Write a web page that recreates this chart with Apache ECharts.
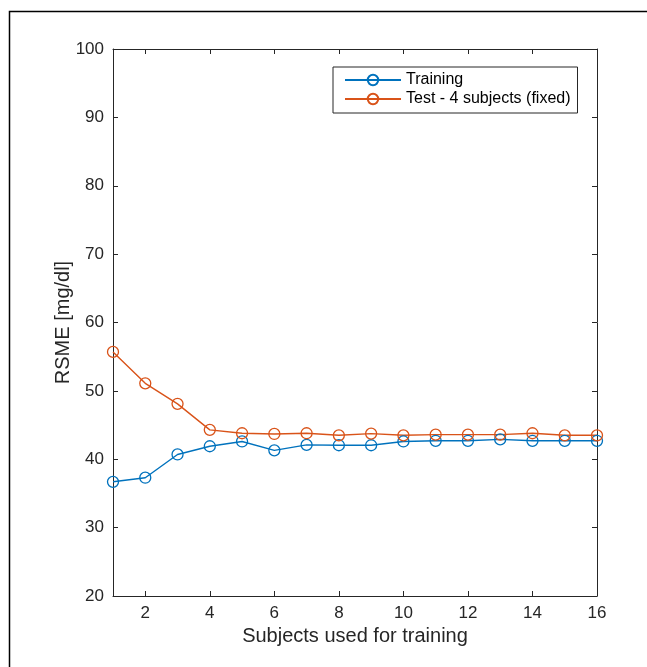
<!DOCTYPE html>
<html>
<head>
<meta charset="utf-8">
<script src="https://cdn.jsdelivr.net/npm/echarts@6/dist/echarts.min.js"></script>
<style>
  html, body { margin: 0; padding: 0; background: #fff; }
  #chart { width: 647px; height: 667px; }
</style>
</head>
<body>
<div id="chart"></div>
<script>
// subjects used for training (x axis)
const subjects = ['1', '2', '3', '4', '5', '6', '7', '8', '9', '10', '11', '12', '13', '14', '15', '16'];
// RSME [mg/dl] values
const training = [36.7, 37.3, 40.7, 41.9, 42.6, 41.3, 42.1, 42.05, 42.05, 42.6, 42.7, 42.7, 42.9, 42.7, 42.7, 42.7];
const testFixed = [55.7, 51.1, 48.1, 44.3, 43.8, 43.7, 43.8, 43.5, 43.75, 43.5, 43.6, 43.6, 43.6, 43.8, 43.5, 43.5];
const yTicks = { min: 20, max: 100, step: 10 };

const axisColor = '#262626';
const font = 'Liberation Sans, Arial, sans-serif';

const myChart = echarts.init(document.getElementById('chart'));

// only every second category gets a tick/label (2, 4, ... 16)
const everyOther = (i) => i % 2 === 1;

const baseX = {
    type: 'category',
    data: subjects,
    boundaryGap: false,
    axisLine: { show: true, lineStyle: { color: axisColor, width: 1 } },
    axisTick: { show: true, inside: true, length: 5, interval: everyOther, lineStyle: { color: axisColor } },
    splitLine: { show: false }
};
const baseY = {
    type: 'value',
    min: yTicks.min,
    max: yTicks.max,
    interval: yTicks.step,
    axisLine: { show: true, lineStyle: { color: axisColor, width: 1 } },
    axisTick: { show: true, inside: true, length: 5, lineStyle: { color: axisColor } },
    splitLine: { show: false }
};

const makeSeries = (name, color, data) => ({
    name: name,
    type: 'line',
    data: data,
    symbol: 'circle',
    symbolSize: 11,
    showAllSymbol: true,
    itemStyle: { color: 'rgba(255,255,255,0)', borderColor: color, borderWidth: 1.3 },
    lineStyle: { color: color, width: 1.4 },
    emphasis: { disabled: true },
    z: 3
});

myChart.setOption({
    animation: false,
    backgroundColor: '#fff',
    textStyle: { fontFamily: font },
    grid: { left: 113, right: 50, top: 49, bottom: 71 },
    graphic: [
        {
            type: 'rect',
            left: 7,
            top: 9,
            shape: { width: 700, height: 700 },
            style: { fill: 'none', stroke: '#000', lineWidth: 1.5 },
            z: -1
        }
    ],
    legend: {
        orient: 'vertical',
        left: 333,
        top: 67,
        backgroundColor: '#fff',
        borderColor: axisColor,
        borderWidth: 1,
        padding: [5, 7, 6, 11],
        itemWidth: 56,
        itemHeight: 13,
        itemGap: 3,
        textStyle: { fontFamily: font, fontSize: 16, color: '#000' },
        data: ['Training', 'Test - 4 subjects (fixed)']
    },
    xAxis: [
        Object.assign({}, baseX, {
            position: 'bottom',
            name: 'Subjects used for training',
            nameLocation: 'middle',
            nameGap: 30,
            nameMoveOverlap: false,
            nameTextStyle: { fontFamily: font, fontSize: 20, color: axisColor },
            axisLabel: { interval: everyOther, margin: 9, fontFamily: font, fontSize: 17, color: axisColor }
        }),
        Object.assign({}, baseX, {
            position: 'top',
            axisLabel: { show: false }
        })
    ],
    yAxis: [
        Object.assign({}, baseY, {
            position: 'left',
            name: 'RSME [mg/dl]',
            nameLocation: 'middle',
            nameGap: 40,
            nameMoveOverlap: false,
            nameTextStyle: { fontFamily: font, fontSize: 20, color: axisColor },
            axisLabel: { margin: 9, fontFamily: font, fontSize: 17, color: axisColor }
        }),
        Object.assign({}, baseY, {
            position: 'right',
            axisLabel: { show: false }
        })
    ],
    series: [
        makeSeries('Training', '#0072BD', training),
        makeSeries('Test - 4 subjects (fixed)', '#D95319', testFixed)
    ]
});
</script>
</body>
</html>
